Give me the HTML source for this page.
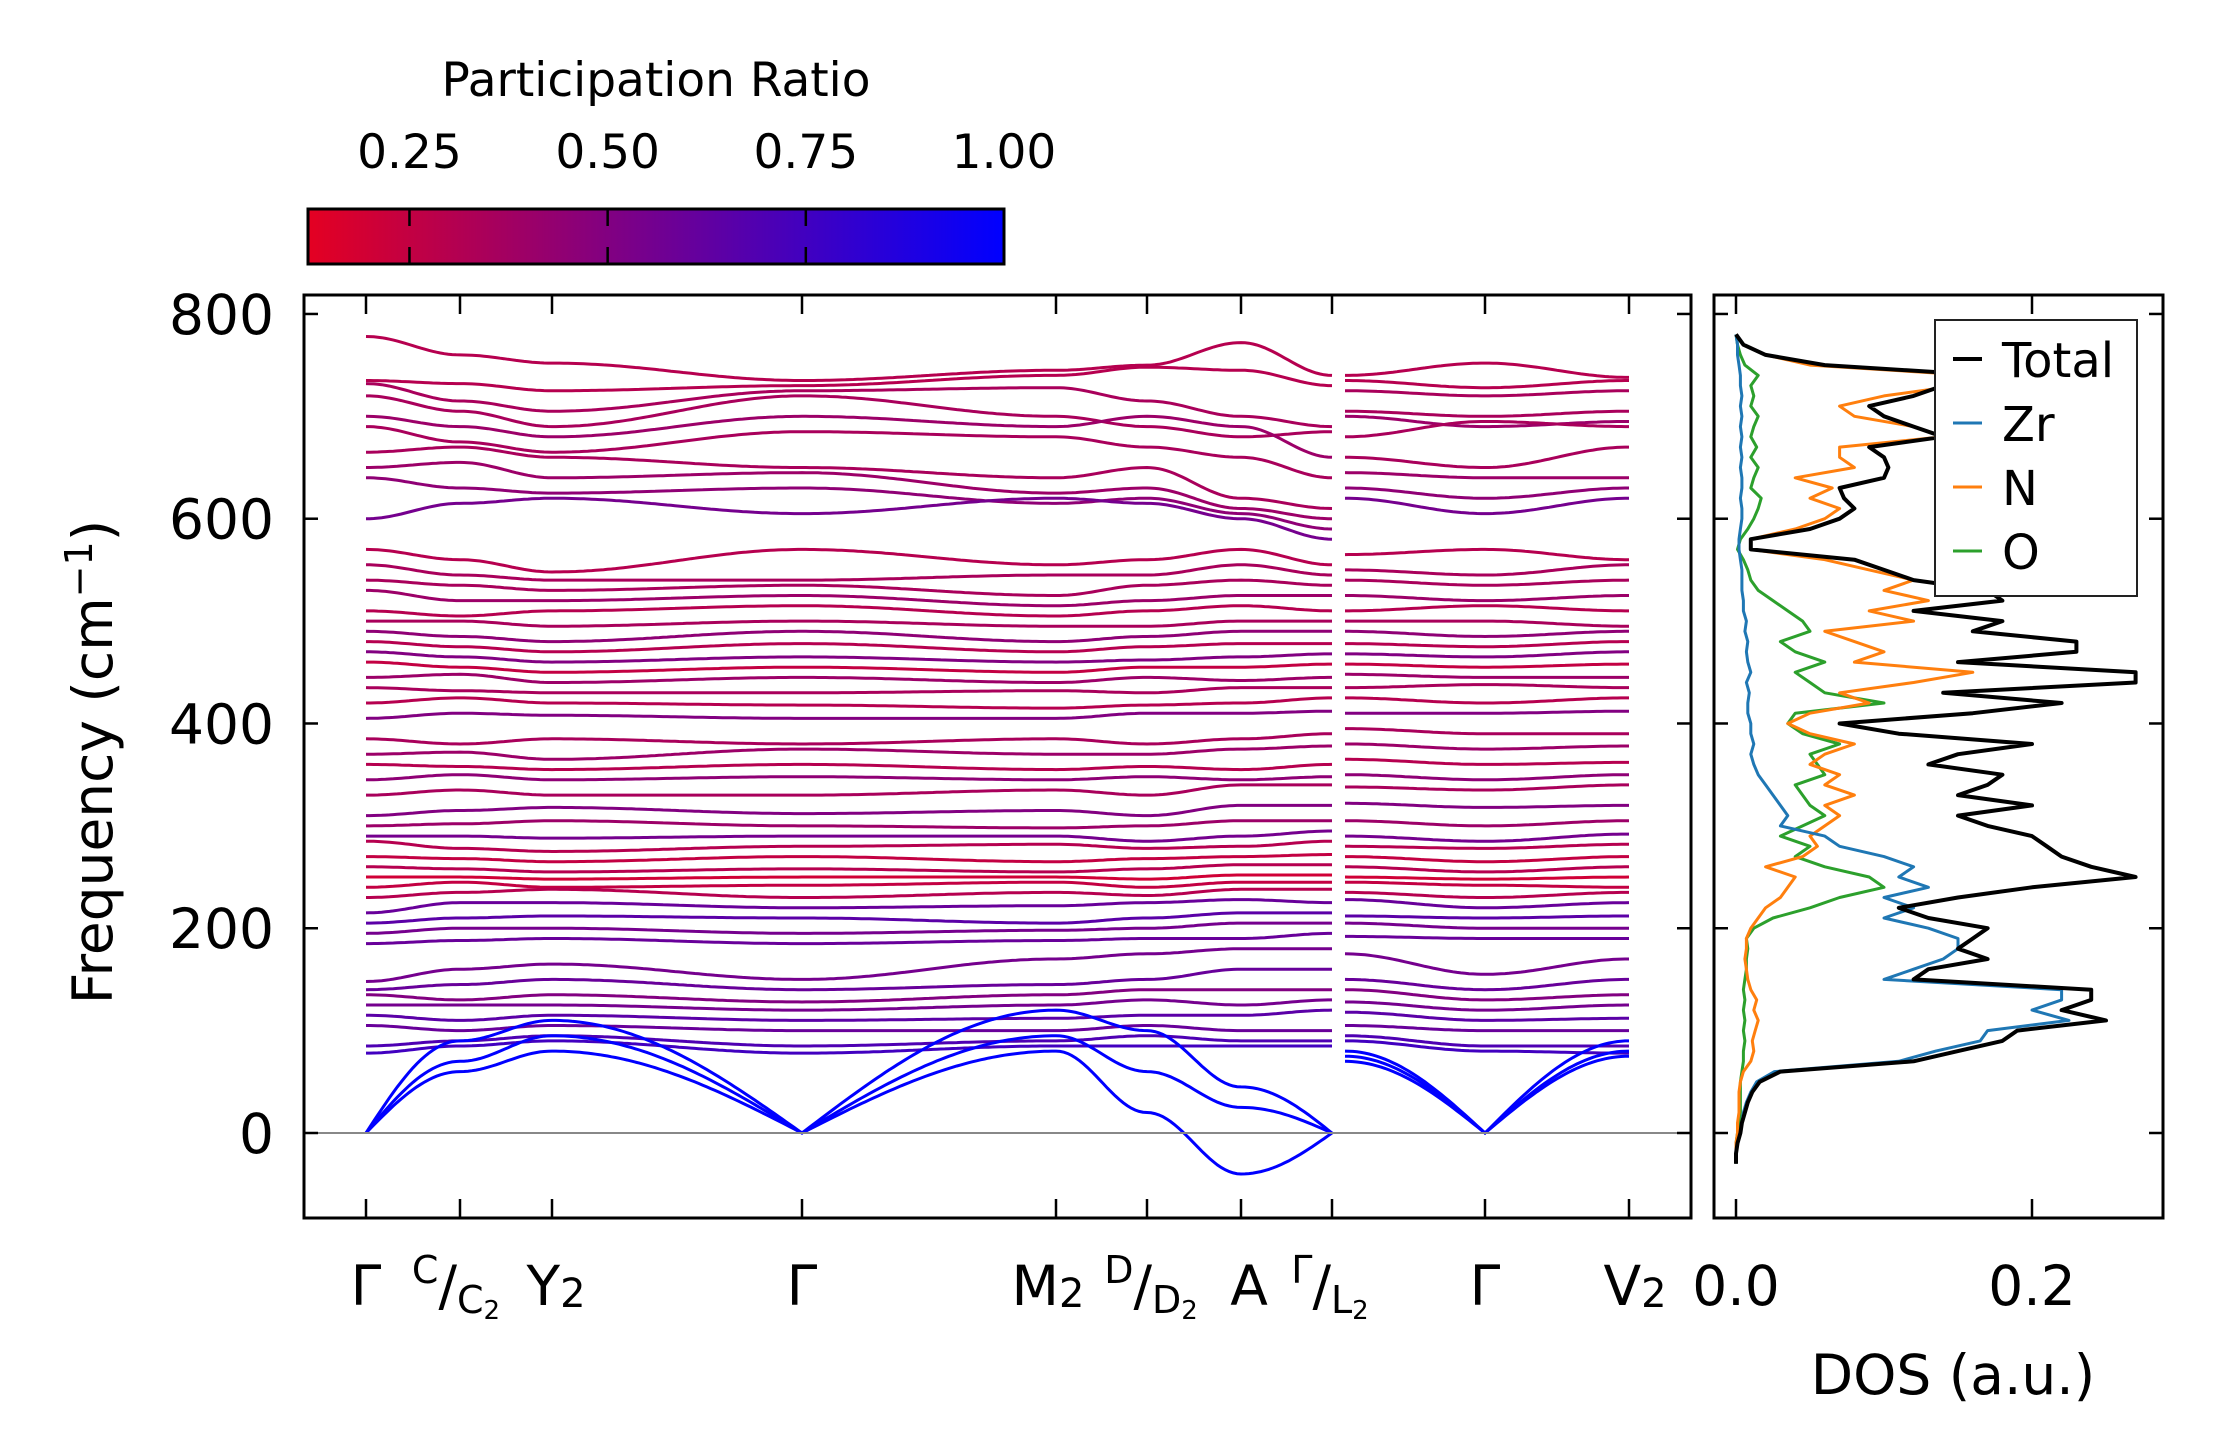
<!DOCTYPE html>
<html><head><meta charset="utf-8"><style>
html,body{margin:0;padding:0;background:#fff;}
svg{display:block;font-family:"DejaVu Sans","Liberation Sans",sans-serif;}
</style></head><body>
<svg id="chart" width="2222" height="1455" viewBox="0 0 2222 1455" xmlns="http://www.w3.org/2000/svg">
<defs>
<linearGradient id="cbgrad" x1="0" x2="1" y1="0" y2="0">
<stop offset="0" stop-color="rgb(228,0,34)"/>
<stop offset="1" stop-color="rgb(0,0,255)"/>
</linearGradient>
<clipPath id="mainclip"><rect x="304" y="295" width="1386" height="922"/></clipPath>
<clipPath id="dosclip"><rect x="1714" y="295" width="448" height="922"/></clipPath>
</defs>
<g>
<text x="656" y="96" font-size="47" text-anchor="middle">Participation Ratio</text>
<rect x="308" y="209" width="696" height="55" fill="url(#cbgrad)" stroke="#000" stroke-width="3"/>
<g id="cbticks"></g>
</g>
<g id="main">
<g id="bands" clip-path="url(#mainclip)"></g>
<line x1="304" x2="1690" y1="1133" y2="1133" stroke="#888" stroke-width="2"/>
<rect x="304" y="295" width="1387" height="923" fill="none" stroke="#000" stroke-width="3"/>
<g id="mainticks"></g>
<text transform="translate(112,762) rotate(-90)" font-size="55" text-anchor="middle">Frequency (cm<tspan font-size="38" dy="-20">−1</tspan><tspan dy="20">)</tspan></text>
</g>
<g id="dos">
<g id="doslines" clip-path="url(#dosclip)"></g>
<rect x="1714" y="295" width="449" height="923" fill="none" stroke="#000" stroke-width="3"/>
<g id="dosticks"></g>
<text x="1953" y="1394" font-size="55" text-anchor="middle">DOS (a.u.)</text>
<g>
<rect x="1935" y="320" width="202" height="276" fill="#fff" stroke="#222" stroke-width="2"/>
<g id="legend-items"></g>
</g>
</g>
</svg>
<script>
const NS='http://www.w3.org/2000/svg';
// ---- data ----
const cbTicks=[0.25,0.5,0.75,1.0];
const cbTickLabels=['0.25','0.50','0.75','1.00'];
const yTicks=[0,200,400,600,800];
const dosTicks=[0.0,0.2];
const dosTickLabels=['0.0','0.2'];
// band frequencies at k-nodes: Γ, C, Y2, Γ, M2, D, A, Γ | L2, Γ, V2
const bandVals=[
[778,760,752,735,745,750,772,740,740,752,738],
[735,732,725,730,740,748,745,730,735,728,735],
[732,715,705,725,728,715,700,690,725,720,725],
[720,705,690,720,700,690,680,685,705,700,705],
[700,690,680,700,690,700,690,660,700,690,695],
[690,675,665,685,680,670,660,640,680,695,690],
[665,670,660,650,640,650,620,610,660,650,670],
[650,655,640,645,625,630,610,600,645,640,640],
[640,630,625,630,615,620,605,590,630,620,630],
[600,615,620,605,620,615,600,580,620,605,620],
[570,560,548,570,555,560,570,555,565,570,560],
[555,545,540,540,545,545,555,545,550,545,555],
[540,535,530,535,525,535,540,535,540,535,540],
[530,520,520,525,515,520,525,525,525,520,525],
[510,505,510,515,505,510,515,510,510,515,510],
[500,500,495,500,495,495,500,500,500,500,495],
[490,485,480,490,480,485,490,490,490,485,490],
[480,475,470,478,470,475,478,478,478,475,480],
[470,465,460,465,460,462,465,468,468,465,470],
[460,455,450,455,450,455,455,458,458,455,458],
[445,448,440,445,440,445,442,445,448,445,445],
[435,432,430,430,432,430,435,435,435,438,435],
[420,425,420,418,415,418,420,425,425,420,425],
[405,410,408,405,405,410,410,412,410,410,412],
[385,380,385,380,385,380,385,390,395,390,390],
[370,372,365,375,370,370,375,378,380,375,378],
[360,358,355,360,355,358,355,360,365,360,362],
[345,350,345,348,345,348,345,348,350,345,350],
[330,335,330,330,335,330,340,340,338,335,340],
[310,315,318,312,315,310,320,320,322,318,320],
[300,302,305,300,298,300,305,305,305,300,305],
[290,290,288,290,290,285,290,295,290,285,292],
[285,278,275,280,282,278,280,285,280,278,282],
[270,268,265,270,265,268,270,272,270,265,270],
[260,258,255,258,255,258,262,262,260,255,260],
[250,250,248,250,250,248,252,252,250,248,250],
[240,245,240,242,245,240,245,245,245,242,240],
[230,235,238,230,235,232,238,238,235,230,235],
[215,225,225,220,222,225,228,225,228,220,225],
[205,210,212,210,205,210,215,215,212,210,212],
[195,200,200,195,198,200,205,205,205,200,200],
[185,188,190,185,188,190,190,195,192,190,190],
[148,160,165,150,170,175,180,180,175,155,170],
[140,145,150,140,145,150,160,160,150,140,150],
[135,130,135,128,135,140,140,140,140,130,135],
[125,125,125,120,125,130,125,130,128,120,125],
[115,110,115,110,112,115,115,120,118,110,112],
[105,100,105,100,100,105,100,100,105,100,100],
[85,90,95,85,90,95,90,90,95,85,85],
[78,85,90,78,85,85,85,85,90,80,78],
[0,90,110,0,120,100,45,0,80,0,90],
[0,70,95,0,95,60,25,0,75,0,80],
[0,60,80,0,80,20,-40,0,70,0,75]
];
const bandPR=[.3,.3,.35,.35,.4,.35,.35,.4,.45,.55,.3,.35,.35,.4,.3,.35,.45,.3,.5,.25,.4,.35,.3,.5,.35,.4,.3,.45,.35,.5,.4,.55,.3,.25,.3,.2,.25,.3,.6,.65,.55,.6,.55,.6,.5,.55,.65,.6,.7,.75,1,1,1];
const dosFreq=[-30,-20,-10,0,10,20,30,40,50,60,70,80,90,100,110,120,130,140,150,160,170,180,190,200,210,220,230,240,250,260,270,280,290,300,310,320,330,340,350,360,370,380,390,400,410,420,430,440,450,460,470,480,490,500,510,520,530,540,550,560,570,580,590,600,610,620,630,640,650,660,670,680,690,700,710,720,730,740,750,760,770,780];
const dosTotal=[0,0,0.001,0.003,0.004,0.006,0.008,0.011,0.016,0.03,0.12,0.15,0.18,0.19,0.25,0.22,0.24,0.24,0.12,0.13,0.17,0.15,0.16,0.17,0.13,0.11,0.15,0.2,0.27,0.24,0.22,0.21,0.2,0.17,0.15,0.2,0.15,0.17,0.18,0.13,0.15,0.2,0.11,0.07,0.16,0.22,0.14,0.27,0.27,0.15,0.23,0.23,0.16,0.18,0.12,0.18,0.17,0.12,0.1,0.08,0.01,0.01,0.05,0.07,0.08,0.073,0.07,0.1,0.103,0.1,0.09,0.14,0.12,0.1,0.09,0.12,0.14,0.17,0.06,0.02,0.005,0];
const dosZr=[0,0,0.001,0.003,0.004,0.005,0.007,0.01,0.014,0.026,0.11,0.135,0.165,0.17,0.225,0.2,0.22,0.22,0.1,0.12,0.14,0.15,0.15,0.13,0.1,0.12,0.1,0.13,0.11,0.12,0.1,0.07,0.06,0.03,0.035,0.03,0.025,0.02,0.015,0.012,0.01,0.012,0.01,0.01,0.008,0.008,0.009,0.007,0.01,0.008,0.007,0.008,0.006,0.007,0.005,0.005,0.004,0.004,0.004,0.003,0.002,0.002,0.003,0.004,0.004,0.003,0.004,0.004,0.003,0.004,0.003,0.004,0.003,0.004,0.003,0.004,0.003,0.003,0.002,0.001,0.001,0];
const dosN=[0,0,0,0.001,0.001,0.002,0.002,0.002,0.003,0.005,0.01,0.012,0.011,0.013,0.015,0.012,0.014,0.01,0.008,0.007,0.006,0.007,0.007,0.01,0.015,0.02,0.03,0.035,0.04,0.02,0.045,0.055,0.05,0.06,0.07,0.06,0.08,0.06,0.07,0.05,0.06,0.08,0.05,0.035,0.05,0.09,0.07,0.12,0.16,0.08,0.1,0.08,0.06,0.12,0.09,0.13,0.1,0.12,0.09,0.06,0.01,0.01,0.04,0.06,0.07,0.05,0.065,0.04,0.08,0.07,0.07,0.14,0.12,0.08,0.07,0.1,0.15,0.16,0.05,0.02,0.005,0];
const dosO=[0,0,0,0.001,0.002,0.003,0.003,0.003,0.003,0.004,0.005,0.005,0.006,0.005,0.006,0.005,0.006,0.005,0.006,0.007,0.007,0.008,0.007,0.012,0.025,0.05,0.07,0.1,0.09,0.06,0.04,0.05,0.03,0.045,0.06,0.05,0.045,0.04,0.06,0.055,0.05,0.07,0.045,0.035,0.04,0.1,0.06,0.05,0.04,0.06,0.04,0.03,0.05,0.045,0.035,0.025,0.015,0.01,0.008,0.005,0.001,0.003,0.008,0.012,0.015,0.017,0.01,0.012,0.015,0.01,0.014,0.01,0.012,0.015,0.01,0.012,0.01,0.015,0.006,0.003,0.001,0];
const dosNames=['Total','Zr','N','O'];
const dosData=[dosTotal,dosZr,dosN,dosO];
const dosColors=['#000','#1f77b4','#ff7f0e','#2ca02c'];
const dosWidths=[4,3,3,3];

// ---- axes ----
const kNodeX=[366,460,552,802,1056,1147,1241,1332,1345,1485,1629];
const kTickX=[366,460,552,802,1056,1147,1241,1332,1485,1629];
function yF(f){return 1133-f*1.0238;}
function xDos(d){return 1736+d*1480;}
function xCb(v){return 308+(v-0.122)/(1-0.122)*696;}
function prColor(p){const t=Math.max(0,Math.min(1,(p-0.122)/0.878));return 'rgb('+Math.round(228*(1-t))+',0,'+Math.round(34+221*t)+')';}
function mk(tag,attrs,parent){const e=document.createElementNS(NS,tag);for(const k in attrs)e.setAttribute(k,attrs[k]);parent.appendChild(e);return e;}

// colorbar ticks
const cbG=document.getElementById('cbticks');
cbTicks.forEach((v,i)=>{
  const x=xCb(v);
  if(v<1){
    const l1=mk('line',{x1:x,x2:x,y1:209,y2:226,stroke:'#000','stroke-width':2.5},cbG);
    
    
    const l2=mk('line',{x1:x,x2:x,y1:247,y2:264,stroke:'#000','stroke-width':2.5},cbG);
    
    
  }
  const t=mk('text',{x:x,y:168,'font-size':47,'text-anchor':'middle'},cbG);
  t.textContent=cbTickLabels[i];
  
  
});

// bands
const bG=document.getElementById('bands');
function interp(a,b,u){
  if(a===0&&b!==0){return b*Math.sin(Math.PI/2*u);}
  if(b===0&&a!==0){return a*Math.sin(Math.PI/2*(1-u));}
  const w=(1-Math.cos(Math.PI*u))/2;return a*(1-w)+b*w;
}
bandVals.forEach((vals,bi)=>{
  [[0,7],[8,10]].forEach(([s,e])=>{
    let d='';
    for(let n=s;n<e;n++){
      const x0=kNodeX[n],x1=kNodeX[n+1];
      const steps=Math.max(8,Math.round((x1-x0)/4));
      for(let j=0;j<=steps;j++){
        if(n>s&&j===0)continue;
        const u=j/steps;
        const f=interp(vals[n],vals[n+1],u);
        d+=(d?'L':'M')+(x0+(x1-x0)*u).toFixed(1)+','+yF(f).toFixed(1);
      }
    }
    const p=mk('path',{d:d,fill:'none',stroke:prColor(bandPR[bi]),'stroke-width':3},bG);
    
    
  });
});

// main ticks
const mT=document.getElementById('mainticks');
yTicks.forEach(v=>{
  const y=yF(v);
  mk('line',{x1:304,x2:318,y1:y,y2:y,stroke:'#000','stroke-width':2.5},mT);
  mk('line',{x1:1677,x2:1691,y1:y,y2:y,stroke:'#000','stroke-width':2.5},mT);
  const t=mk('text',{x:274,y:y+20,'font-size':55,'text-anchor':'end'},mT);
  t.textContent=String(v);
  
  
});
kTickX.forEach(x=>{
  mk('line',{x1:x,x2:x,y1:1218,y2:1199,stroke:'#000','stroke-width':2.5},mT);
  mk('line',{x1:x,x2:x,y1:295,y2:314,stroke:'#000','stroke-width':2.5},mT);
});
function kLabel(i,html,dx){
  const g=mk('text',{x:kTickX[i]+(dx||0),y:1305,'font-size':55,'text-anchor':'middle'},mT);
  g.innerHTML=html;
  
  
}
kLabel(0,'Γ');
kLabel(1,'<tspan font-size="38" dy="-22">C</tspan><tspan dy="22">/</tspan><tspan font-size="38" dy="8">C</tspan><tspan font-size="26" dy="6">2</tspan>',-4);
kLabel(2,'Y<tspan font-size="40" dy="2">2</tspan>',4);
kLabel(3,'Γ');
kLabel(4,'M<tspan font-size="40" dy="2">2</tspan>',-8);
kLabel(5,'<tspan font-size="38" dy="-22">D</tspan><tspan dy="22">/</tspan><tspan font-size="38" dy="8">D</tspan><tspan font-size="26" dy="6">2</tspan>',4);
kLabel(6,'A',8);
kLabel(7,'<tspan font-size="38" dy="-22">Γ</tspan><tspan dy="22">/</tspan><tspan font-size="38" dy="8">L</tspan><tspan font-size="26" dy="6">2</tspan>',-2);
kLabel(8,'Γ');
kLabel(9,'V<tspan font-size="40" dy="2">2</tspan>',6);

// DOS
const dG=document.getElementById('doslines');
for(let s=dosData.length-1;s>=0;s--){
  let d='';
  dosData[s].forEach((v,i)=>{d+=(i?'L':'M')+xDos(v).toFixed(1)+','+yF(dosFreq[i]).toFixed(1);});
  const p=mk('path',{d:d,fill:'none',stroke:dosColors[s],'stroke-width':dosWidths[s],'stroke-linejoin':'round'},dG);
  
  
}
const dT=document.getElementById('dosticks');
yTicks.forEach(v=>{
  const y=yF(v);
  mk('line',{x1:1714,x2:1728,y1:y,y2:y,stroke:'#000','stroke-width':2.5},dT);
  mk('line',{x1:2149,x2:2163,y1:y,y2:y,stroke:'#000','stroke-width':2.5},dT);
});
dosTicks.forEach((v,i)=>{
  const x=xDos(v);
  mk('line',{x1:x,x2:x,y1:1218,y2:1199,stroke:'#000','stroke-width':2.5},dT);
  mk('line',{x1:x,x2:x,y1:295,y2:314,stroke:'#000','stroke-width':2.5},dT);
  const t=mk('text',{x:x,y:1305,'font-size':55,'text-anchor':'middle'},dT);
  t.textContent=dosTickLabels[i];
  
  
});
const lg=document.getElementById('legend-items');
dosNames.forEach((name,i)=>{
  const y=359+i*64;
  const l=mk('line',{x1:1953,x2:1982,y1:y,y2:y,stroke:dosColors[i],'stroke-width':dosWidths[i]},lg);
  
  
  const t=mk('text',{x:2002,y:y+18,'font-size':48},lg);
  t.textContent=name;
  
  
});
</script>
</body></html>
